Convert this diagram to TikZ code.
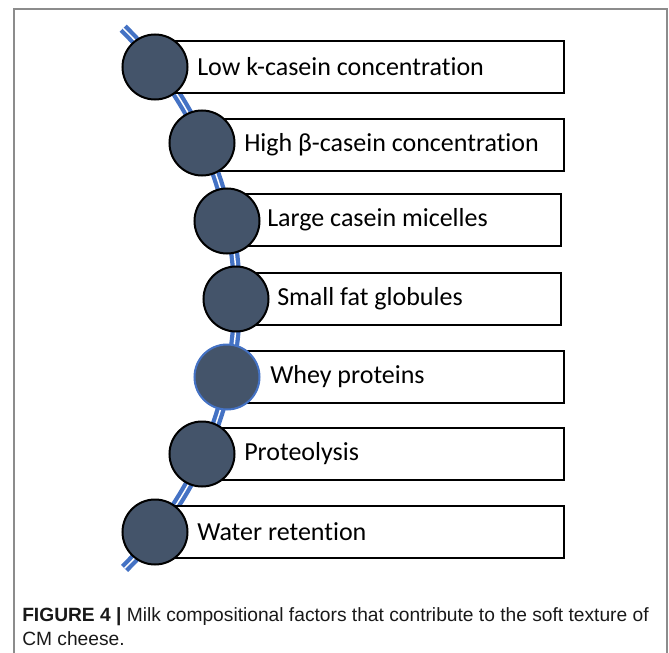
\documentclass[tikz,border=0pt]{standalone}
\usepackage{fontspec}
\setmainfont{Carlito}[Ligatures=NoCommon]
\newfontfamily\capfont{Liberation Sans}
\definecolor{dotfill}{HTML}{44546A}
\definecolor{accblue}{HTML}{4472C4}
\definecolor{framegray}{HTML}{8C8C8C}
\begin{document}
\begin{tikzpicture}[x=0.75pt,y=-0.75pt,
  stepbox/.style={draw=black, line width=1.5pt, fill=white, rectangle, anchor=west, minimum height=52*0.75pt, inner sep=0pt},
  dot/.style={draw=black, line width=1.5pt, fill=dotfill, circle, minimum size=65*0.75pt, inner sep=0pt},
  lab/.style={anchor=west, inner sep=0pt, font=\fontsize{19.5}{22}\selectfont, text=black},
  capt/.style={anchor=base west, inner sep=0pt, align=left, font=\capfont\fontsize{14.4}{18}\selectfont, text=black!90}]
\useasboundingbox (0,0) rectangle (669,653);
% frame
\draw[framegray, line width=1.1pt] (14,660) -- (14,9) -- (667,9) -- (667,660);
% double blue arc
\draw[accblue, line width=3.2pt, double=white, double distance=1.1pt]
  plot[domain=-45.6:45.3, samples=80] ({-142+379*cos(\x)},{299+379*sin(\x)});
% boxes
\node[stepbox, minimum width=408*0.75pt] (b1) at (155,67) {};
\node[stepbox, minimum width=361*0.75pt] (b2) at (202,145) {};
\node[stepbox, minimum width=333*0.75pt] (b3) at (227,220) {};
\node[stepbox, minimum width=324*0.75pt] (b4) at (236,299) {};
\node[stepbox, minimum width=336*0.75pt] (b5) at (227,377) {};
\node[stepbox, minimum width=361*0.75pt] (b6) at (202,454) {};
\node[stepbox, minimum width=408*0.75pt] (b7) at (155,532) {};
% circles
\node[dot] (c1) at (155,67) {};
\node[dot] (c2) at (202,143) {};
\node[dot] (c3) at (227,221) {};
\node[dot] (c4) at (236,299) {};
\node[dot, draw=accblue] (c5) at (227,377) {};
\node[dot] (c6) at (202,454) {};
\node[dot] (c7) at (155,532) {};
% labels
\node[lab] (t1) at (197,67) {Low k-casein concentration};
\node[lab] (t2) at (244,145) {High β-casein concentration};
\node[lab] (t3) at (267,220) {Large casein micelles};
\node[lab] (t4) at (277,299) {Small fat globules};
\node[lab] (t5) at (270,377) {Whey proteins};
\node[lab] (t6) at (244,454) {Proteolysis};
\node[lab] (t7) at (197,532) {Water retention};
% caption
\node[capt] (cap) at (22,645) {\textbf{FIGURE 4 |} Milk compositional factors that contribute to the soft texture of\\CM cheese.};
\end{tikzpicture}
\end{document}
